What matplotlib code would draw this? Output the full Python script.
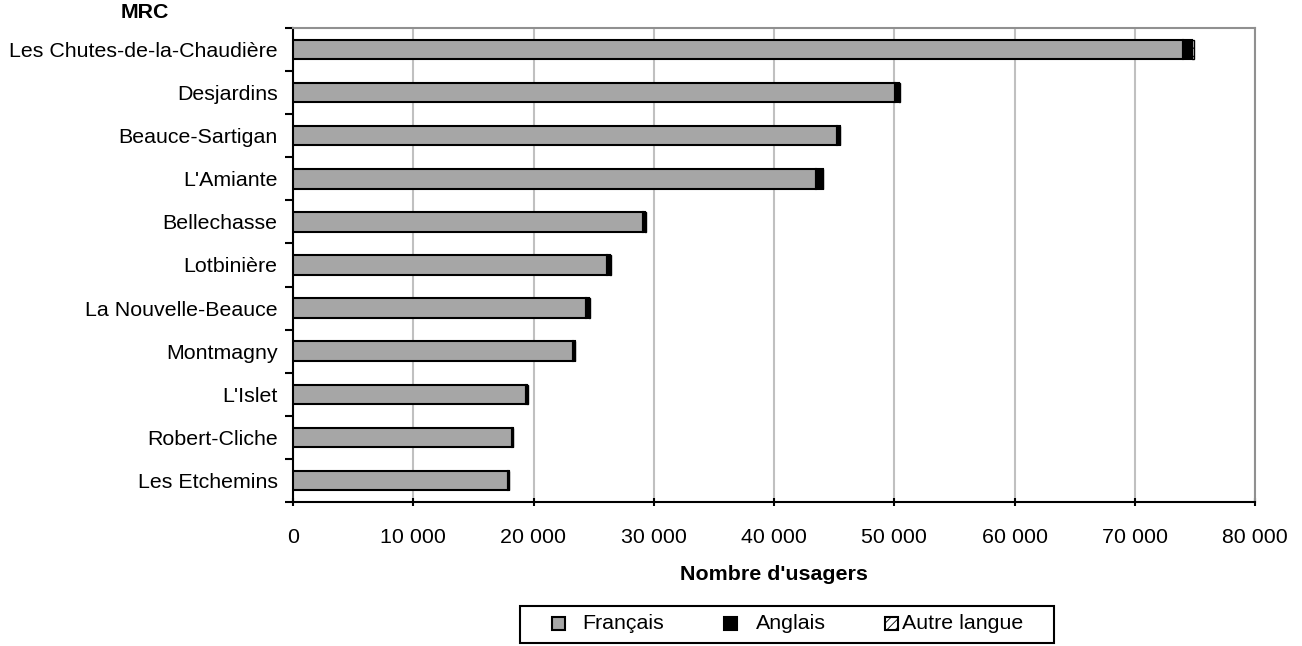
import matplotlib
matplotlib.use("Agg")
import matplotlib.pyplot as plt
from matplotlib.patches import Rectangle
from matplotlib.ticker import FuncFormatter, MultipleLocator, FixedLocator
import numpy as np

plt.rcParams['font.family'] = ['Liberation Sans', 'DejaVu Sans']
plt.rcParams['hatch.linewidth'] = 0.6

categories = ["Les Chutes-de-la-Chaudière", "Desjardins", "Beauce-Sartigan", "L'Amiante",
              "Bellechasse", "Lotbinière", "La Nouvelle-Beauce", "Montmagny", "L'Islet",
              "Robert-Cliche", "Les Etchemins"]
francais = [74000, 50100, 45200, 43500, 29100, 26150, 24400, 23300, 19400, 18200, 17900]
anglais = [800, 300, 250, 550, 200, 250, 250, 150, 100, 100, 80]
autre = [100, 50, 50, 50, 30, 30, 30, 30, 20, 20, 20]
series_labels = ["Français", "Anglais", "Autre langue"]

FS = 15.4
W, H = 1302, 646

fig = plt.figure(figsize=(W/100, H/100), dpi=100)
ax = fig.add_axes([293/W, 1-502/H, (1255-293)/W, (502-28)/H])

y = np.arange(len(categories))
h = 0.45
ax.barh(y, francais, height=h, color='#a6a6a6', edgecolor='black', linewidth=1.5, zorder=3)
left2 = np.array(francais)
ax.barh(y, anglais, left=left2, height=h, color='black', edgecolor='black', linewidth=1.5, zorder=3)
left3 = left2 + np.array(anglais)
ax.barh(y, autre, left=left3, height=h, color='white', edgecolor='black', hatch='////', linewidth=1.0, zorder=3)

ax.set_ylim(len(categories) - 0.5, -0.5)
ax.set_xlim(0, 80000)
ax.xaxis.set_major_locator(MultipleLocator(10000))
ax.xaxis.set_major_formatter(FuncFormatter(lambda v, p: f"{int(v):,}".replace(",", " ")))
ax.set_yticks(y)
ax.set_yticklabels(categories, fontsize=FS)
ax.yaxis.set_minor_locator(FixedLocator(np.arange(-0.5, len(categories), 1)))
ax.tick_params(axis='y', which='major', length=0, pad=11)
ax.tick_params(axis='y', which='minor', length=6, width=1.5, direction='out')
ax.tick_params(axis='x', which='major', length=6, width=1.5, direction='inout', labelsize=FS, pad=16)

ax.grid(axis='x', color='#c0c0c0', linewidth=1.5, zorder=0)
ax.set_axisbelow(True)
for s in ['top', 'right']:
    ax.spines[s].set_color('#909090')
    ax.spines[s].set_linewidth(1.5)
for s in ['left', 'bottom']:
    ax.spines[s].set_color('black')
    ax.spines[s].set_linewidth(1.5)

fig.text(145/W, 1-12/H, "MRC", fontsize=FS, fontweight='bold', ha='center', va='center')
fig.text(774/W, 1-574/H, "Nombre d'usagers", fontsize=FS, fontweight='bold', ha='center', va='center')

# legend (drawn manually to match spacing)
fig.patches.append(Rectangle((520/W, 1-643/H), (1054-520)/W, (643-606)/H, transform=fig.transFigure,
                             facecolor='white', edgecolor='black', linewidth=1.5))
styles = [dict(facecolor='#a6a6a6', edgecolor='black'),
          dict(facecolor='black', edgecolor='black'),
          dict(facecolor='white', edgecolor='black', hatch='////')]
marker_x = [552, 724, 885]
text_x = [582, 756, 902]
yc = 623.5
for lab, st, mx, tx in zip(series_labels, styles, marker_x, text_x):
    fig.patches.append(Rectangle((mx/W, 1-(yc+6.5)/H), 13/W, 13/H, transform=fig.transFigure,
                                 linewidth=1.5, **st))
    fig.text(tx/W, 1-yc/H, lab, fontsize=FS, ha='left', va='center')

fig.savefig("out.png", dpi=100)
